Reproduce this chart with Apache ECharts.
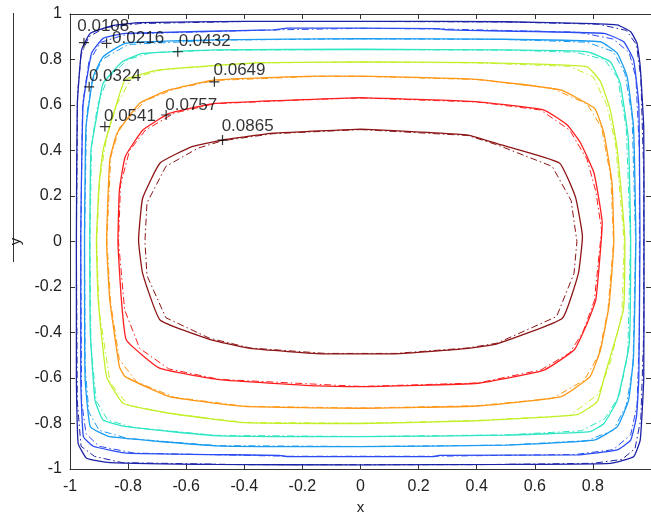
<!DOCTYPE html>
<html>
<head>
<meta charset="utf-8">
<title>contours</title>
<script src="https://cdn.jsdelivr.net/npm/echarts@6/dist/echarts.min.js"></script>
<style>
  html, body { margin: 0; padding: 0; background: #fff; }
  #chart { width: 651px; height: 520px; }
</style>
</head>
<body>
<div id="chart"></div>
<script>
// contour levels (outer -> inner)
const levels = ['0.0108', '0.0216', '0.0324', '0.0432', '0.0541', '0.0649', '0.0757', '0.0865']

// solid contours, [x, y]
const solid0108 = [[0, 0.968], [0.5, 0.966], [0.8, 0.958], [0.884, 0.952], [0.93, 0.922], [0.952, 0.871], [0.963, 0.768], [0.975, 0.5], [0.976, 0], [0.975, -0.6], [0.963, -0.872], [0.94, -0.946], [0.86, -0.975], [0.5, -0.98], [0, -0.982], [-0.5, -0.98], [-0.863, -0.972], [-0.943, -0.953], [-0.972, -0.887], [-0.978, -0.6], [-0.978, 0], [-0.975, 0.6], [-0.96, 0.842], [-0.93, 0.915], [-0.85, 0.95], [-0.76, 0.962], [-0.4, 0.968], [0, 0.968]]
const solid0216 = [[0, 0.938], [0.267, 0.936], [0.3, 0.93], [0.838, 0.915], [0.906, 0.878], [0.94, 0.798], [0.958, 0.6], [0.962, 0], [0.958, -0.6], [0.95, -0.77], [0.93, -0.873], [0.884, -0.916], [0.746, -0.938], [0.27, -0.94], [0.25, -0.946], [0, -0.946], [-0.25, -0.946], [-0.28, -0.94], [-0.806, -0.93], [-0.92, -0.9], [-0.954, -0.858], [-0.963, -0.6], [-0.963, 0], [-0.955, 0.6], [-0.926, 0.827], [-0.886, 0.893], [-0.81, 0.915], [-0.3, 0.93], [-0.25, 0.938], [0, 0.938]]
const solid0324 = [[0, 0.892], [0.5, 0.889], [0.826, 0.878], [0.884, 0.827], [0.918, 0.724], [0.94, 0.5], [0.948, 0], [0.94, -0.5], [0.923, -0.697], [0.884, -0.814], [0.804, -0.873], [0.5, -0.895], [0, -0.902], [-0.5, -0.898], [-0.863, -0.858], [-0.93, -0.814], [-0.948, -0.6], [-0.95, 0], [-0.945, 0.5], [-0.92, 0.724], [-0.886, 0.812], [-0.81, 0.871], [-0.5, 0.886], [0, 0.892]]
const solid0432 = [[0, 0.845], [0.5, 0.842], [0.78, 0.834], [0.86, 0.79], [0.894, 0.695], [0.922, 0.45], [0.93, 0], [0.925, -0.45], [0.884, -0.697], [0.838, -0.8], [0.79, -0.836], [0.5, -0.851], [0, -0.858], [-0.5, -0.853], [-0.806, -0.814], [-0.886, -0.785], [-0.914, -0.697], [-0.93, -0.4], [-0.932, 0], [-0.928, 0.4], [-0.908, 0.55], [-0.886, 0.695], [-0.82, 0.79], [-0.75, 0.827], [-0.5, 0.842], [0, 0.845]]
const solid0541 = [[0, 0.79], [0.4, 0.786], [0.78, 0.768], [0.826, 0.703], [0.86, 0.578], [0.884, 0.402], [0.91, 0], [0.905, -0.3], [0.843, -0.579], [0.815, -0.704], [0.746, -0.761], [0.4, -0.788], [0, -0.8], [-0.4, -0.796], [-0.658, -0.755], [-0.817, -0.711], [-0.874, -0.594], [-0.903, -0.257], [-0.909, 0], [-0.9, 0.25], [-0.886, 0.402], [-0.846, 0.578], [-0.81, 0.71], [-0.692, 0.754], [-0.35, 0.786], [0, 0.79]]
const solid0649 = [[0, 0.727], [0.4, 0.713], [0.688, 0.666], [0.806, 0.585], [0.838, 0.476], [0.866, 0.256], [0.872, 0], [0.855, -0.287], [0.826, -0.477], [0.79, -0.594], [0.69, -0.682], [0.4, -0.723], [0, -0.733], [-0.4, -0.725], [-0.658, -0.682], [-0.81, -0.594], [-0.83, -0.55], [-0.863, -0.257], [-0.874, 0], [-0.863, 0.358], [-0.838, 0.476], [-0.76, 0.608], [-0.658, 0.666], [-0.5, 0.71], [-0.147, 0.727], [0, 0.727]]
const solid0757 = [[0, 0.632], [0.404, 0.614], [0.632, 0.578], [0.712, 0.512], [0.758, 0.432], [0.804, 0.3], [0.832, 0.08], [0.81, -0.257], [0.78, -0.36], [0.735, -0.477], [0.632, -0.565], [0.404, -0.623], [0, -0.638], [-0.144, -0.635], [-0.486, -0.607], [-0.692, -0.557], [-0.806, -0.433], [-0.823, -0.257], [-0.835, 0], [-0.83, 0.226], [-0.81, 0.373], [-0.749, 0.49], [-0.658, 0.563], [-0.5, 0.607], [-0.147, 0.626], [0, 0.632]]
const solid0865 = [[0, 0.494], [0.37, 0.468], [0.47, 0.43], [0.685, 0.345], [0.74, 0.195], [0.764, 0.02], [0.75, -0.14], [0.695, -0.337], [0.47, -0.45], [0.37, -0.47], [0.12, -0.494], [-0.12, -0.494], [-0.38, -0.47], [-0.52, -0.43], [-0.69, -0.345], [-0.75, -0.14], [-0.764, 0.006], [-0.75, 0.19], [-0.69, 0.345], [-0.58, 0.417], [-0.475, 0.446], [-0.3, 0.476], [0, 0.494]]

// dash-dot contours (second solution), same edges, corners cut a bit
const dash0108 = [[0, 0.967], [0.5, 0.965], [0.82, 0.955], [0.915, 0.928], [0.95, 0.865], [0.965, 0.72], [0.975, 0.3], [0.975, -0.4], [0.965, -0.78], [0.945, -0.91], [0.9, -0.958], [0.8, -0.975], [0.4, -0.981], [-0.4, -0.981], [-0.82, -0.972], [-0.915, -0.945], [-0.962, -0.9], [-0.975, -0.7], [-0.978, 0], [-0.974, 0.65], [-0.962, 0.82], [-0.935, 0.9], [-0.88, 0.94], [-0.76, 0.958], [-0.4, 0.967], [0, 0.967]]
const dash0216 = [[0, 0.937], [0.28, 0.934], [0.75, 0.92], [0.87, 0.89], [0.925, 0.83], [0.948, 0.72], [0.96, 0.4], [0.96, -0.4], [0.952, -0.72], [0.93, -0.85], [0.87, -0.915], [0.74, -0.936], [0.25, -0.944], [-0.25, -0.944], [-0.78, -0.93], [-0.9, -0.9], [-0.945, -0.845], [-0.96, -0.7], [-0.963, 0], [-0.957, 0.6], [-0.935, 0.79], [-0.895, 0.875], [-0.8, 0.913], [-0.3, 0.93], [0, 0.937]]
const dash0324 = [[0, 0.891], [0.5, 0.888], [0.78, 0.876], [0.87, 0.835], [0.91, 0.74], [0.935, 0.55], [0.947, 0], [0.938, -0.55], [0.915, -0.72], [0.87, -0.83], [0.78, -0.875], [0.5, -0.895], [0, -0.901], [-0.5, -0.897], [-0.8, -0.866], [-0.9, -0.83], [-0.935, -0.75], [-0.948, -0.55], [-0.95, 0], [-0.943, 0.55], [-0.925, 0.7], [-0.89, 0.8], [-0.8, 0.866], [-0.5, 0.885], [0, 0.891]]
const dash0432 = [[0, 0.844], [0.5, 0.841], [0.74, 0.832], [0.84, 0.8], [0.885, 0.72], [0.915, 0.5], [0.929, 0], [0.92, -0.5], [0.89, -0.68], [0.84, -0.78], [0.76, -0.832], [0.5, -0.85], [0, -0.857], [-0.5, -0.852], [-0.78, -0.818], [-0.87, -0.785], [-0.91, -0.7], [-0.928, -0.45], [-0.931, 0], [-0.926, 0.42], [-0.905, 0.6], [-0.87, 0.72], [-0.8, 0.8], [-0.72, 0.83], [-0.5, 0.841], [0, 0.844]]
const dash0541 = [[0, 0.789], [0.4, 0.785], [0.72, 0.77], [0.8, 0.725], [0.848, 0.6], [0.878, 0.43], [0.908, 0], [0.9, -0.32], [0.86, -0.53], [0.82, -0.67], [0.72, -0.765], [0.4, -0.787], [0, -0.799], [-0.4, -0.795], [-0.65, -0.758], [-0.8, -0.72], [-0.862, -0.62], [-0.9, -0.3], [-0.908, 0], [-0.898, 0.27], [-0.875, 0.45], [-0.84, 0.6], [-0.79, 0.715], [-0.68, 0.756], [-0.35, 0.785], [0, 0.789]]
const dash0649 = [[0, 0.726], [0.4, 0.712], [0.66, 0.673], [0.78, 0.605], [0.83, 0.5], [0.862, 0.28], [0.871, 0], [0.852, -0.3], [0.82, -0.5], [0.77, -0.61], [0.66, -0.69], [0.4, -0.722], [0, -0.732], [-0.4, -0.724], [-0.64, -0.685], [-0.77, -0.618], [-0.83, -0.52], [-0.86, -0.27], [-0.873, 0], [-0.86, 0.37], [-0.83, 0.5], [-0.74, 0.62], [-0.64, 0.67], [-0.5, 0.708], [-0.147, 0.726], [0, 0.726]]
const dash0757 = [[0, 0.631], [0.404, 0.613], [0.62, 0.578], [0.72, 0.49], [0.78, 0.36], [0.81, 0.22], [0.83, 0.05], [0.805, -0.26], [0.765, -0.4], [0.72, -0.49], [0.62, -0.565], [0.404, -0.622], [0, -0.637], [-0.486, -0.606], [-0.66, -0.56], [-0.76, -0.47], [-0.812, -0.3], [-0.833, 0], [-0.826, 0.25], [-0.795, 0.4], [-0.74, 0.49], [-0.64, 0.565], [-0.5, 0.606], [-0.147, 0.625], [0, 0.631]]
const dash0865 = [[0, 0.492], [0.37, 0.466], [0.47, 0.425], [0.66, 0.33], [0.725, 0.18], [0.745, 0], [0.735, -0.14], [0.675, -0.33], [0.47, -0.447], [0.37, -0.468], [0.12, -0.492], [-0.12, -0.492], [-0.38, -0.468], [-0.52, -0.425], [-0.67, -0.335], [-0.735, -0.15], [-0.742, 0], [-0.735, 0.17], [-0.67, 0.33], [-0.56, 0.41], [-0.475, 0.443], [-0.3, 0.474], [0, 0.492]]

// clabel '+' markers and text anchors (left-middle of text)
const markerPts = [[-0.952, 0.874], [-0.874, 0.871], [-0.934, 0.68], [-0.629, 0.834], [-0.88, 0.505], [-0.503, 0.702], [-0.669, 0.556], [-0.475, 0.446]]
const textPts = [[-0.975, 0.944], [-0.855, 0.893], [-0.935, 0.724], [-0.626, 0.878], [-0.883, 0.549], [-0.506, 0.754], [-0.672, 0.6], [-0.478, 0.505]]

const solids = [solid0108, solid0216, solid0324, solid0432, solid0541, solid0649, solid0757, solid0865]
const dashes = [dash0108, dash0216, dash0324, dash0432, dash0541, dash0649, dash0757, dash0865]

// jet colours
const colors = ['#1c22a6', '#2a4cf2', '#1a9cf2', '#2ee6c4', '#c2f028', '#ff9614', '#ff1e1e', '#8c1414']

const font = '"Liberation Sans", Arial, sans-serif'

const series = []
levels.forEach((lv, i) => {
  series.push({
    name: lv + ' a',
    type: 'line',
    data: solids[i],
    showSymbol: false,
    silent: true,
    smooth: 0.12,
    lineStyle: { color: colors[i], width: 1.3 }
  })
  series.push({
    name: lv + ' b',
    type: 'line',
    data: dashes[i],
    showSymbol: false,
    silent: true,
    lineStyle: { color: colors[i], width: 1, type: [7, 3, 1.5, 3] }
  })
})

series.push({
  type: 'scatter',
  data: markerPts,
  symbol: 'path://M0,5L10,5M5,0L5,10',
  symbolSize: 10,
  itemStyle: { color: 'none', borderColor: '#000', borderWidth: 1.2 },
  z: 5
})
series.push({
  type: 'scatter',
  data: textPts.map((p, i) => ({ value: p, name: levels[i] })),
  symbolSize: 0,
  label: {
    show: true,
    position: 'right',
    distance: 0,
    formatter: p => p.name,
    color: '#000',
    fontFamily: font,
    fontSize: 17
  },
  z: 6
})

const axisCommon = {
  type: 'value',
  min: -1,
  max: 1,
  interval: 0.2,
  splitLine: { show: false },
  axisLine: { show: true, onZero: false, lineStyle: { color: '#333', width: 1 } },
  axisTick: { show: true, inside: true, length: 5, lineStyle: { color: '#333' } }
}
const labelStyle = { color: '#222', fontFamily: font, fontSize: 16 }

const chart = echarts.init(document.getElementById('chart'))
chart.setOption({
  animation: false,
  backgroundColor: '#fff',
  // plot box runs a little past the right edge of the picture
  grid: { left: 70, width: 584, top: 14, bottom: 50 },
  xAxis: [
    Object.assign({}, axisCommon, {
      position: 'bottom',
      name: 'x',
      nameLocation: 'middle',
      nameGap: 31,
      nameTextStyle: { color: '#222', fontFamily: font, fontSize: 15 },
      axisLabel: Object.assign({ margin: 10, showMaxLabel: false }, labelStyle)
    }),
    Object.assign({}, axisCommon, { position: 'top', axisLabel: { show: false } })
  ],
  yAxis: [
    Object.assign({}, axisCommon, {
      position: 'left',
      name: 'y',
      nameLocation: 'middle',
      nameGap: 47,
      nameTextStyle: { color: '#222', fontFamily: font, fontSize: 15 },
      axisLabel: Object.assign({ margin: 8 }, labelStyle)
    }),
    Object.assign({}, axisCommon, { position: 'right', axisLabel: { show: false } })
  ],
  graphic: [{
    type: 'line',
    shape: { x1: 13.5, y1: 13, x2: 13.5, y2: 262 },
    style: { stroke: '#333', lineWidth: 1 }
  }],
  series: series
})
</script>
</body>
</html>
